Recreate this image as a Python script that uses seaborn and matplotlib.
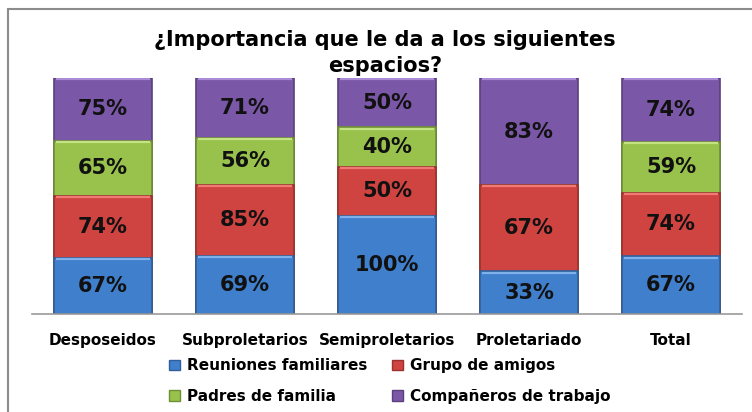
import numpy as np
import pandas as pd
import seaborn as sns
import matplotlib.pyplot as plt
from matplotlib.patches import Rectangle, Patch

# data (labels show the raw percentages,
# bar heights are 100% stacked)
categories = ["Desposeidos", "Subproletarios", "Semiproletarios", "Proletariado", "Total"]
reuniones = [67, 69, 100, 33, 67]
amigos = [74, 85, 50, 67, 74]
padres = [65, 56, 40, 0, 59]
companeros = [75, 71, 50, 83, 74]

series = ["Reuniones familiares", "Grupo de amigos", "Padres de familia", "Compañeros de trabajo"]
colors = ["#3f7fcc", "#cf4340", "#98c24c", "#7b57a8"]
edges = ["#2f609c", "#9c302e", "#6f8f34", "#5a3f7d"]
lights = ["#7fb0ea", "#f07a76", "#c4e383", "#ab8ad6"]

sns.set_style("white")
plt.rcParams['font.family'] = ['DejaVu Sans']
plt.rcParams['text.color'] = 'black'
plt.rcParams['xtick.color'] = 'black'

vals = np.array([reuniones, amigos, padres, companeros], dtype=float)
shares = vals / vals.sum(axis=0)
cum = shares.cumsum(axis=0)

fig = plt.figure(figsize=(7.52, 4.12), dpi=100)
ax = fig.add_axes([32 / 752, 98 / 412, 710 / 752, 236 / 412])

# stacked bars: draw cumulative totals from the top down
for i in range(3, -1, -1):
    df = pd.DataFrame({"cat": categories, "h": cum[i]})
    sns.barplot(data=df, x="cat", y="h", color=colors[i], width=0.69,
                saturation=1, edgecolor=edges[i], linewidth=1.2, ax=ax)

# light bevel line along the top of each segment
xs = np.arange(len(categories))
for i in range(4):
    keep = vals[i] > 0
    ax.hlines(cum[i][keep] - 0.006, xs[keep] - 0.33, xs[keep] + 0.33,
              color=lights[i], linewidth=1.6)

# value labels in the middle of each segment
for i in range(4):
    for j in range(len(categories)):
        if vals[i, j] == 0:
            continue
        mid = cum[i, j] - shares[i, j] / 2
        ax.text(j, mid, f"{int(vals[i, j])}%", ha="center", va="center",
                fontsize=15, fontweight="bold", color="#111111")

ax.set_ylim(0, 1)
ax.set_xlim(-0.5, 4.5)
ax.set_xlabel("")
ax.set_ylabel("")
ax.set_yticks([])
ax.tick_params(axis="x", length=0, pad=14, labelsize=11)
for lbl in ax.get_xticklabels():
    lbl.set_fontweight("bold")
for s in ["top", "right", "left"]:
    ax.spines[s].set_visible(False)
ax.spines["bottom"].set_color("#999999")
ax.spines["bottom"].set_linewidth(1.2)

fig.text(385 / 752, 1 - 53 / 412, "¿Importancia que le da a los siguientes\nespacios?",
         ha="center", va="center", fontsize=15, fontweight="bold", linespacing=1.35)

# legend filled row by row like the original
order = [0, 2, 1, 3]
handles = [Patch(facecolor=colors[k], edgecolor=edges[k]) for k in order]
fig.legend(handles, [series[k] for k in order], ncol=2, loc="center",
           bbox_to_anchor=(390 / 752, 1 - 381 / 412),
           frameon=False, handlelength=0.7, handleheight=0.7,
           handletextpad=0.5, columnspacing=1.6, labelspacing=1.0,
           prop={"weight": "bold", "size": 11})

# chart border (cut off at right and bottom)
fig.patches.append(Rectangle((8 / 752, -0.05), 1.0, 1 - 9 / 412 + 0.05,
                             transform=fig.transFigure, fill=False,
                             edgecolor="#8c8c8c", linewidth=1.5))

fig.savefig("out.png", dpi=100)
